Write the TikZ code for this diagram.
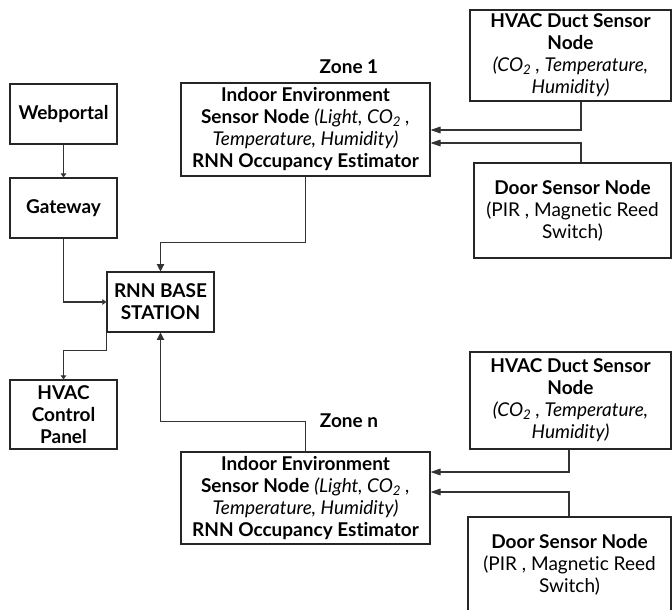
\documentclass[tikz,border=0pt]{standalone}
\usepackage{fontspec}
\setmainfont{Lato}[Ligatures={NoCommon}]
\usetikzlibrary{arrows.meta}
\begin{document}
\begin{tikzpicture}[x=0.75pt,y=-0.75pt,
  box/.style={draw=black!85,line width=0.8pt,rectangle,inner sep=0pt,align=center,
    font=\fontsize{14.25}{16.5}\selectfont},
  lbl/.style={font=\fontsize{14.25}{16.5}\selectfont\bfseries},
  conn/.style={draw=black!80,line width=0.8pt},
  arrbig/.style={conn,-{Triangle[length=7.5pt,width=5pt]}},
  arrmid/.style={conn,-{Triangle[length=5.5pt,width=5.5pt]}},
  arrsmall/.style={conn,-{Triangle[length=3pt,width=4pt]}}]
\useasboundingbox (0,0) rectangle (672,610);
\clip (0,0) rectangle (672,610);
\node[box,minimum width=80.25pt,minimum height=45pt] (web) at (63.5,114) {\textbf{Webportal}};
\node[box,minimum width=80.25pt,minimum height=45pt] (gate) at (63.5,208) {\textbf{Gateway}};
\node[box,minimum width=80.25pt,minimum height=45pt] (rnn) at (160.5,302) {\textbf{RNN BASE}\\\textbf{STATION}};
\node[box,minimum width=80.25pt,minimum height=51.75pt] (ctrl) at (63.5,414.5) {\textbf{HVAC}\\\textbf{Control}\\\textbf{Panel}};
\node[box,minimum width=186.75pt,minimum height=69.75pt] (z1) at (305.5,129.5)
  {\textbf{Indoor Environment}\\\textbf{Sensor Node} \textit{(Light, CO\textsubscript{2} ,}\\\textit{Temperature, Humidity)}\\\textbf{RNN Occupancy Estimator}};
\node[box,minimum width=150.75pt,minimum height=68.25pt] (hv1) at (570.5,55.5)
  {\textbf{HVAC Duct Sensor}\\\textbf{Node}\\\textit{(CO\textsubscript{2} , Temperature,}\\\textit{Humidity)}};
\node[box,minimum width=147.75pt,minimum height=71.25pt] (d1) at (572.5,210.5)
  {\textbf{Door Sensor Node}\\(PIR , Magnetic Reed\\Switch)};
\node[box,minimum width=186.75pt,minimum height=69pt] (zn) at (305.5,498)
  {\textbf{Indoor Environment}\\\textbf{Sensor Node} \textit{(Light, CO\textsubscript{2} ,}\\\textit{Temperature, Humidity)}\\\textbf{RNN Occupancy Estimator}};
\node[box,minimum width=150.75pt,minimum height=72.75pt] (hvn) at (570.5,400.5)
  {\textbf{HVAC Duct Sensor}\\\textbf{Node}\\\textit{(CO\textsubscript{2} , Temperature,}\\\textit{Humidity)}};
\node[box,minimum width=152.25pt,minimum height=72pt] (dn) at (569.5,565)
  {\textbf{Door Sensor Node}\\(PIR , Magnetic Reed\\Switch)};
\node[lbl] (zl1) at (349,67) {Zone 1};
\node[lbl] (zln) at (349,421) {Zone n};
\coordinate (c1) at (581,130);
\coordinate (c2) at (581,143);
\coordinate (c3) at (569,472);
\coordinate (c4) at (569,492);
\draw[arrsmall] (web) -- (gate);
\draw[arrsmall] (gate.south) |- (rnn.west);
\draw[arrmid] (z1.south) -- ++(0,66) -| (rnn.north);
\draw[arrbig] (hv1.south -| c1) |- (z1.east |- c1);
\draw[arrbig] (d1.north -| c2) |- (z1.east |- c2);
\draw[arrsmall] (rnn.south west) -- ++(0,18) -| (ctrl.north);
\draw[arrmid] (zn.north) -- ++(0,-30) -| (rnn.south);
\draw[arrbig] (hvn.south -| c3) |- (zn.east |- c3);
\draw[arrbig] (dn.north -| c4) |- (zn.east |- c4);
\end{tikzpicture}
\end{document}
